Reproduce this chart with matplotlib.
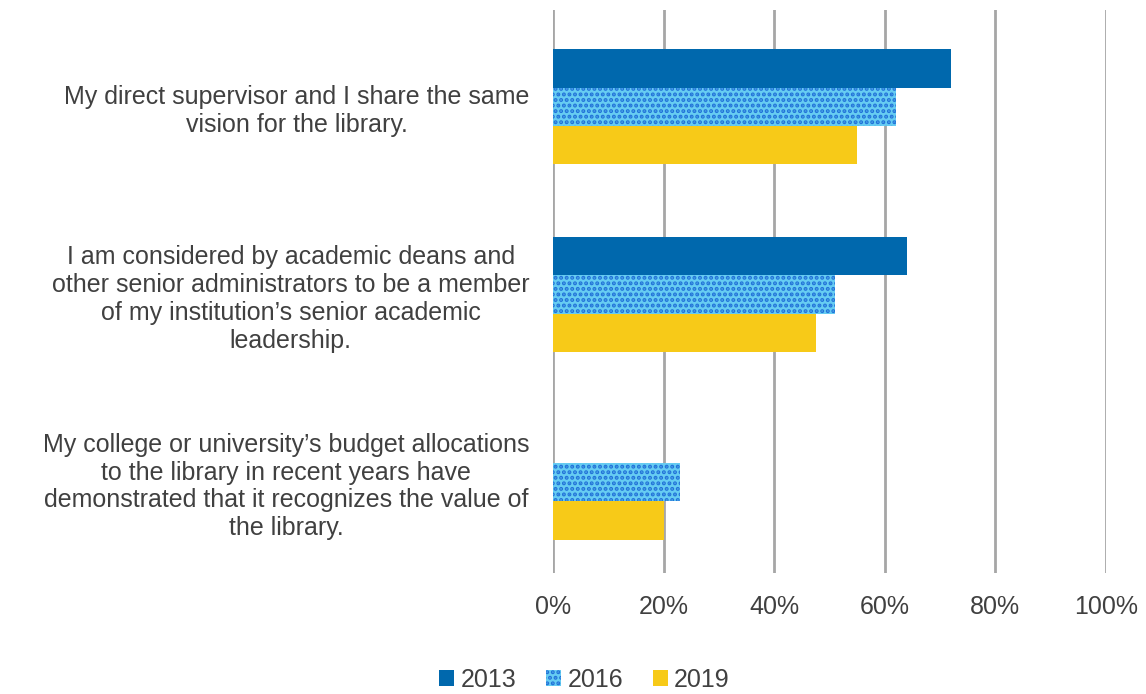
import numpy as np
import matplotlib
matplotlib.use("Agg")
import matplotlib.pyplot as plt
from matplotlib import font_manager

categories = [
    "My direct supervisor and I share the same\nvision for the library.",
    "I am considered by academic deans and\nother senior administrators to be a member\nof my institution\u2019s senior academic\nleadership.",
    "My college or university\u2019s budget allocations\nto the library in recent years have\ndemonstrated that it recognizes the value of\nthe library.",
]
series_names = ["2013", "2016", "2019"]
v2013 = [72, 64, np.nan]
v2016 = [62, 51, 23]
v2019 = [55, 47.5, 20]
xticks = [0, 20, 40, 60, 80, 100]
xticklabels = ["0%", "20%", "40%", "60%", "80%", "100%"]

names = {f.name for f in font_manager.fontManager.ttflist}
fam = ["Liberation Sans", "DejaVu Sans"]
fam = [f for f in fam if f in names] or ["DejaVu Sans"]
plt.rcParams["font.family"] = fam
plt.rcParams["hatch.linewidth"] = 2.0

txt = "#404040"
fig = plt.figure(figsize=(11.46, 6.94), dpi=100)
ax = fig.add_axes([553/1146, 1-573/694, (1106-553)/1146, (573-10)/694])

y = np.arange(len(categories))
h = 0.204
ax.barh(y - h, v2013, height=h, color="#0068AD", label=series_names[0], zorder=3)
ax.barh(y, v2016, height=h, facecolor="#66CCF2", edgecolor="#2272D8", linewidth=0,
        hatch="...", label=series_names[1], zorder=3)
ax.barh(y + h, v2019, height=h, color="#F7CA18", label=series_names[2], zorder=3)

off = -0.016
ax.set_xlim(0, 100)
ax.set_ylim(2.5 + off, -0.5 + off)
ax.set_xticks(xticks)
ax.set_xticklabels(xticklabels)
ax.set_yticks(y)
ax.set_yticklabels(categories, multialignment="center")
ax.tick_params(axis="both", length=0, labelsize=18, labelcolor=txt)
ax.tick_params(axis="x", pad=16)
ax.tick_params(axis="y", pad=17)
for s in ax.spines.values():
    s.set_visible(False)
ax.grid(axis="x", color="#A6A6A6", linewidth=2, zorder=0)
ax.set_axisbelow(True)

leg = fig.legend(loc="center", bbox_to_anchor=(0.51, 0.02), ncol=3, frameon=False,
                 fontsize=18, labelcolor=txt, handlelength=0.6, handleheight=0.6,
                 handletextpad=0.25, columnspacing=1.2)

fig.savefig("out.png", dpi=100)
